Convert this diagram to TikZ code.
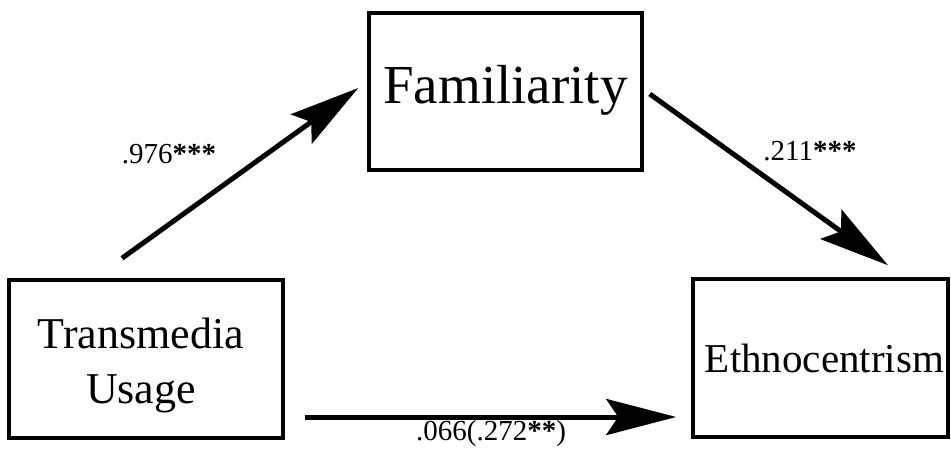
\documentclass[tikz,border=0pt]{standalone}
\usepackage{fontspec}
\setmainfont{Liberation Serif}
\usetikzlibrary{arrows.meta,calc}

\tikzset{
  box/.style={draw, line width=3.5pt, rectangle, inner sep=0pt},
  bigtext/.style={inner sep=0pt, align=center},
  path/.style={line width=5pt, -{Stealth[length=70pt, width=36pt, inset=12pt]}},
  coef/.style={inner sep=0pt, font=\fontsize{29}{34}\selectfont}
}

\begin{document}
\begin{tikzpicture}[x=1pt, y=-1pt]
  \useasboundingbox (0,0) rectangle (951,455);

  % variable boxes
  \node[box, minimum width=274pt, minimum height=158pt] (tu) at (146,359) {};
  \node[box, minimum width=273pt, minimum height=157pt] (fam) at (505.5,91.5) {};
  \node[box, minimum width=255pt, minimum height=158pt] (eth) at (820.5,358) {};

  % box captions
  \node[bigtext, font=\fontsize{44}{55}\selectfont] (tut) at ([xshift=-5pt, yshift=-6pt]tu.center) {Transmedia\\Usage};
  \node[bigtext, font=\fontsize{55}{66}\selectfont] (famt) at ([yshift=1pt]fam.center) {Familiarity};
  \node[bigtext, font=\fontsize{41}{50}\selectfont] (etht) at ([xshift=4pt]eth.center) {Ethnocentrism};

  % connector end points around the boxes
  \coordinate (a1s) at ($(tu.north)+(-24,-20)$);
  \coordinate (a1e) at ($(fam.west)+(-9,-3.5)$);
  \coordinate (a2s) at ($(fam.east)+(6,2.5)$);
  \coordinate (a2e) at ($(eth.north)+(67.5,-12)$);
  \coordinate (a3s) at ($(tu.east)+(20,58)$);
  \coordinate (a3e) at ($(eth.west)+(-15,59)$);

  % paths
  \draw[path] (a1s) -- (a1e);
  \draw[path] (a2s) -- (a2e);
  \draw[path] (a3s) -- (a3e);

  % path coefficients
  \node[coef] (c1) at (169,154) {.976\textbf{***}};
  \node[coef] (c2) at (810,151) {.211\textbf{***}};
  \node[coef] (c3) at (491,434) {.066(.272\textbf{**})};
\end{tikzpicture}
\end{document}
